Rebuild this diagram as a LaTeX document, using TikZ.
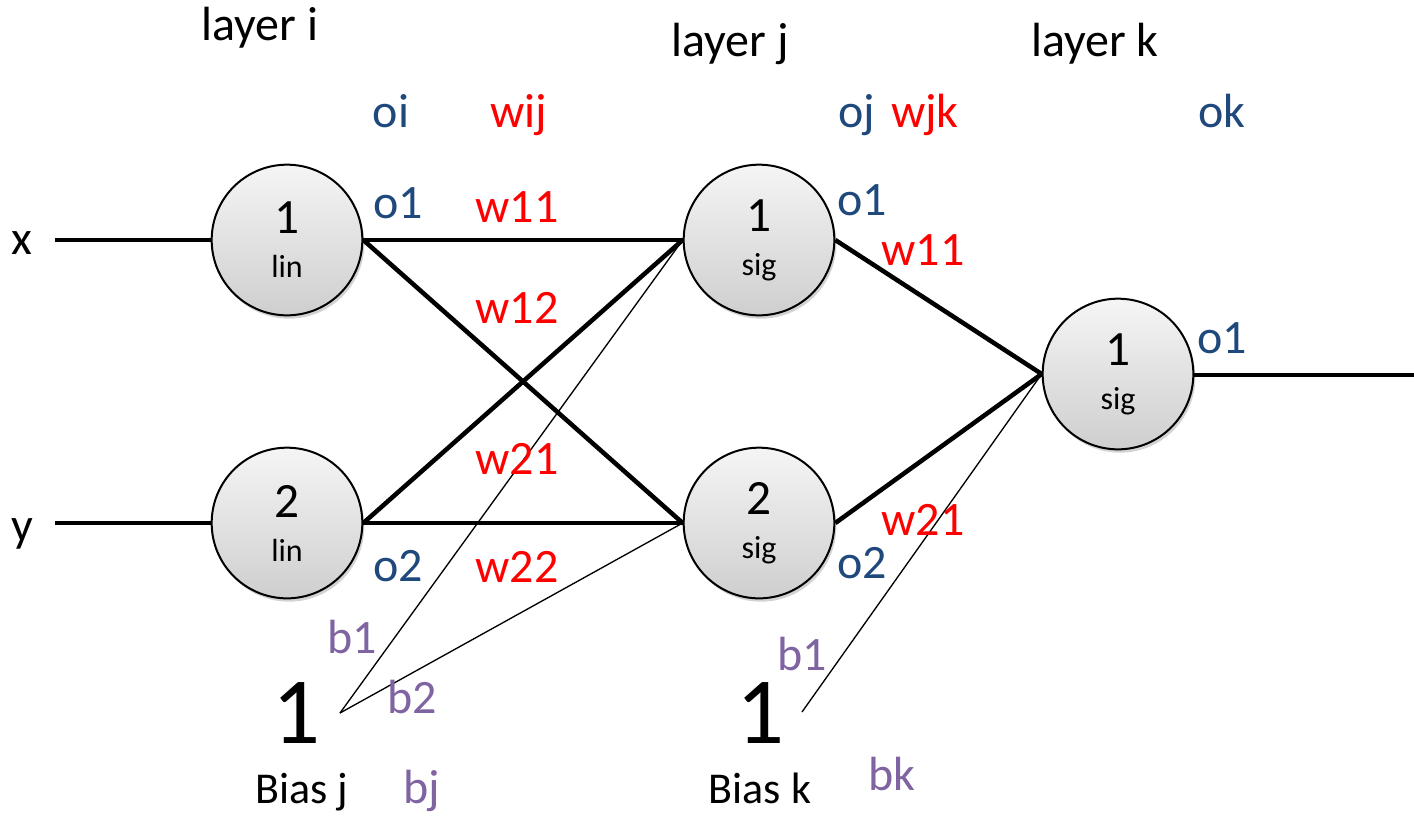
\documentclass[tikz,border=0pt]{standalone}
\usepackage{fontspec}
\setmainfont{Carlito}
\usetikzlibrary{shadows}

\definecolor{oblue}{RGB}{31,73,125}
\definecolor{wred}{RGB}{255,0,0}
\definecolor{bpurple}{RGB}{128,100,162}

\tikzset{every picture/.style={line width=0.75pt}}
\tikzset{
  neuron/.style={circle, draw=black, line width=1.5pt, minimum size=113pt, inner sep=0pt,
    top color=gray!8, bottom color=gray!38, align=center,
    font=\fontsize{37}{33}\selectfont,
    drop shadow={shadow xshift=1.5pt, shadow yshift=-2.5pt, opacity=0.35}},
  wire/.style={line width=3.4pt},
  biasline/.style={line width=1pt},
  txt/.style={anchor=base, inner sep=0pt, font=\fontsize{36}{40}\selectfont},
  olbl/.style={txt, text=oblue},
  wlbl/.style={txt, text=wred},
  blbl/.style={txt, text=bpurple},
  one/.style={anchor=base, inner sep=0pt, font=\fontsize{71}{75}\selectfont},
  biastxt/.style={anchor=base, inner sep=0pt, font=\fontsize{33}{38}\selectfont}
}

\begin{document}
\begin{tikzpicture}[x=0.75pt,y=0.75pt,yscale=-1,xscale=1]
\useasboundingbox (0,0) rectangle (1414,815);

% neurons
\node [neuron] (i1) at (287,240) {1\\{\fontsize{24}{33}\selectfont lin}};
\node [neuron] (i2) at (287,523) {2\\{\fontsize{24}{33}\selectfont lin}};
\node [neuron] (j1) at (759,240) {1\\{\fontsize{24}{33}\selectfont sig}};
\node [neuron] (j2) at (759,523) {2\\{\fontsize{24}{33}\selectfont sig}};
\node [neuron] (k1) at (1118,374) {1\\{\fontsize{24}{33}\selectfont sig}};

% inputs and output
\node [txt] (x) at (22,254) {x};
\node [txt] (y) at (22,541) {y};
\coordinate (xin) at (55,240);
\coordinate (yin) at (55,523);
\coordinate (out) at (1414,375);

\draw [wire] (xin) -- (i1.west);
\draw [wire] (yin) -- (i2.west);
\draw [wire] (i1.east) -- (j1.west);
\draw [wire] (i1.east) -- (j2.west);
\draw [wire] (i2.east) -- (j1.west);
\draw [wire] (i2.east) -- (j2.west);
\draw [wire] (j1.east) -- (k1.west);
\draw [wire] (j2.east) -- (k1.west);
\draw [wire] (k1.east |- out) -- (out);

% bias units
\node [one] (onej) at (296,743) {1};
\node [biastxt] (biasj) at (302,803) {Bias j};
\node [one] (onek) at (760,743) {1};
\node [biastxt] (biask) at (760,803) {Bias k};
\coordinate (bj) at (340,713);
\coordinate (bk) at (802,712);

\draw [biasline] (bj) -- (j1.west);
\draw [biasline] (bj) -- (j2.west);
\draw [biasline] (bk) -- (k1.west);

% layer titles
\node [txt] (li) at (260,40) {layer i};
\node [txt] (lj) at (730,56) {layer j};
\node [txt] (lk) at (1095,56) {layer k};

% header row
\node [olbl] (oi) at (391,127) {oi};
\node [wlbl] (wij) at (519,127) {wij};
\node [olbl] (oj) at (857,127) {oj};
\node [wlbl] (wjk) at (925,127) {wjk};
\node [olbl] (ok) at (1222,127) {ok};

% layer i to j
\node [olbl] (oi1) at (398,218) {o1};
\node [olbl] (oi2) at (398,581) {o2};
\node [wlbl] (w11) at (517,222) {w11};
\node [wlbl] (w12) at (517,323) {w12};
\node [wlbl] (w21) at (517,474) {w21};
\node [wlbl] (w22) at (517,582) {w22};

% layer j to k
\node [olbl] (oj1) at (862,215) {o1};
\node [olbl] (oj2) at (862,578) {o2};
\node [wlbl] (wk11) at (923,265) {w11};
\node [wlbl] (wk21) at (923,535) {w21};
\node [olbl] (ok1) at (1222,353) {o1};

% bias labels
\node [blbl] (bj1) at (352,653) {b1};
\node [blbl] (bj2) at (412,713) {b2};
\node [blbl] (bjl) at (422,803) {bj};
\node [blbl] (bk1) at (802,670) {b1};
\node [blbl] (bkl) at (892,790) {bk};

\end{tikzpicture}
\end{document}
